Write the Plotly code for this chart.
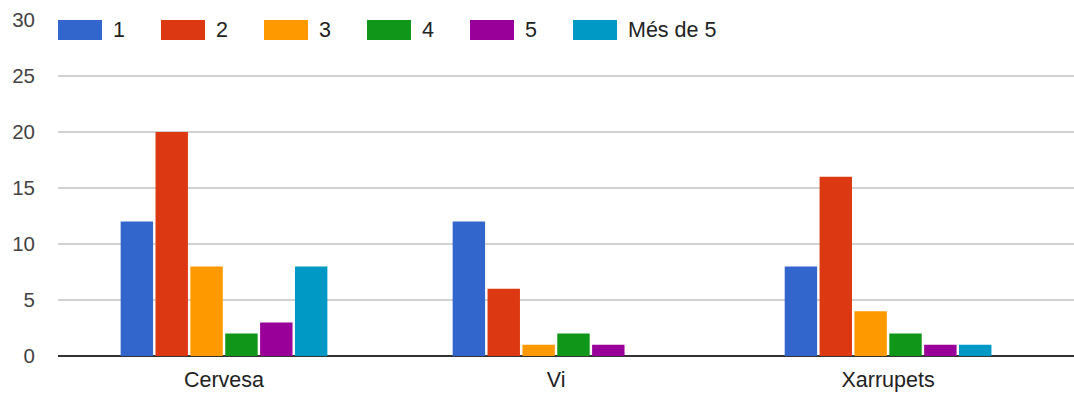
import plotly.graph_objects as go

categories = ["Cervesa", "Vi", "Xarrupets"]
series_names = ["1", "2", "3", "4", "5", "Més de 5"]
values_1 = [12, 12, 8]
values_2 = [20, 6, 16]
values_3 = [8, 1, 4]
values_4 = [2, 2, 2]
values_5 = [3, 1, 1]
values_mes5 = [8, 0, 1]
colors = ["#3366cc", "#dc3912", "#ff9900", "#109618", "#990099", "#0099c6"]
y_ticks = [0, 5, 10, 15, 20, 25, 30]

all_values = [values_1, values_2, values_3, values_4, values_5, values_mes5]

W, H = 1074, 399
L, R, T, B = 58, 0, 20, 43
PW, PH = W - L - R, H - T - B


def px_x(x):
    return (x - L) / PW


def px_y(y):
    return (H - B - y) / PH


fig = go.Figure()
for name, vals, col in zip(series_names, all_values, colors):
    fig.add_trace(go.Bar(
        x=categories, y=vals, name=name,
        marker=dict(color=col, line=dict(width=0)),
        showlegend=False,
    ))

# Legend drawn as wide swatches with labels
shapes = []
annotations = []
for i, (name, col) in enumerate(zip(series_names, colors)):
    x0 = 58 + i * 103
    shapes.append(dict(type="rect", xref="paper", yref="paper",
                       x0=px_x(x0), x1=px_x(x0 + 44), y0=px_y(40), y1=px_y(20),
                       fillcolor=col, line=dict(width=0), layer="above"))
    annotations.append(dict(text=name, xref="paper", yref="paper",
                            x=px_x(x0 + 53), y=px_y(30), xanchor="left", yanchor="middle",
                            showarrow=False, font=dict(size=21.5, color="#222222")))

fig.update_layout(
    width=W, height=H,
    margin=dict(l=L, r=R, t=T, b=B),
    paper_bgcolor="white", plot_bgcolor="white",
    barmode="group", bargap=0.37, bargroupgap=0.07,
    font=dict(family="Liberation Sans, Arial, sans-serif", size=20, color="#444444"),
    shapes=shapes, annotations=annotations,
    xaxis=dict(range=[-0.5, 2.56], showgrid=False, zeroline=False,
               showline=False, ticks="", tickfont=dict(size=21.5, color="#222222"),
               ticklabelstandoff=8),
    yaxis=dict(range=[0, 30], tickvals=y_ticks, showgrid=True, gridcolor="#d2d2d2",
               gridwidth=1.5, zeroline=True, zerolinecolor="#333333", zerolinewidth=2,
               showline=False, ticks="", tickfont=dict(size=20.5, color="#444444"),
               ticklabelstandoff=22),
)

fig.write_html("out.html")
